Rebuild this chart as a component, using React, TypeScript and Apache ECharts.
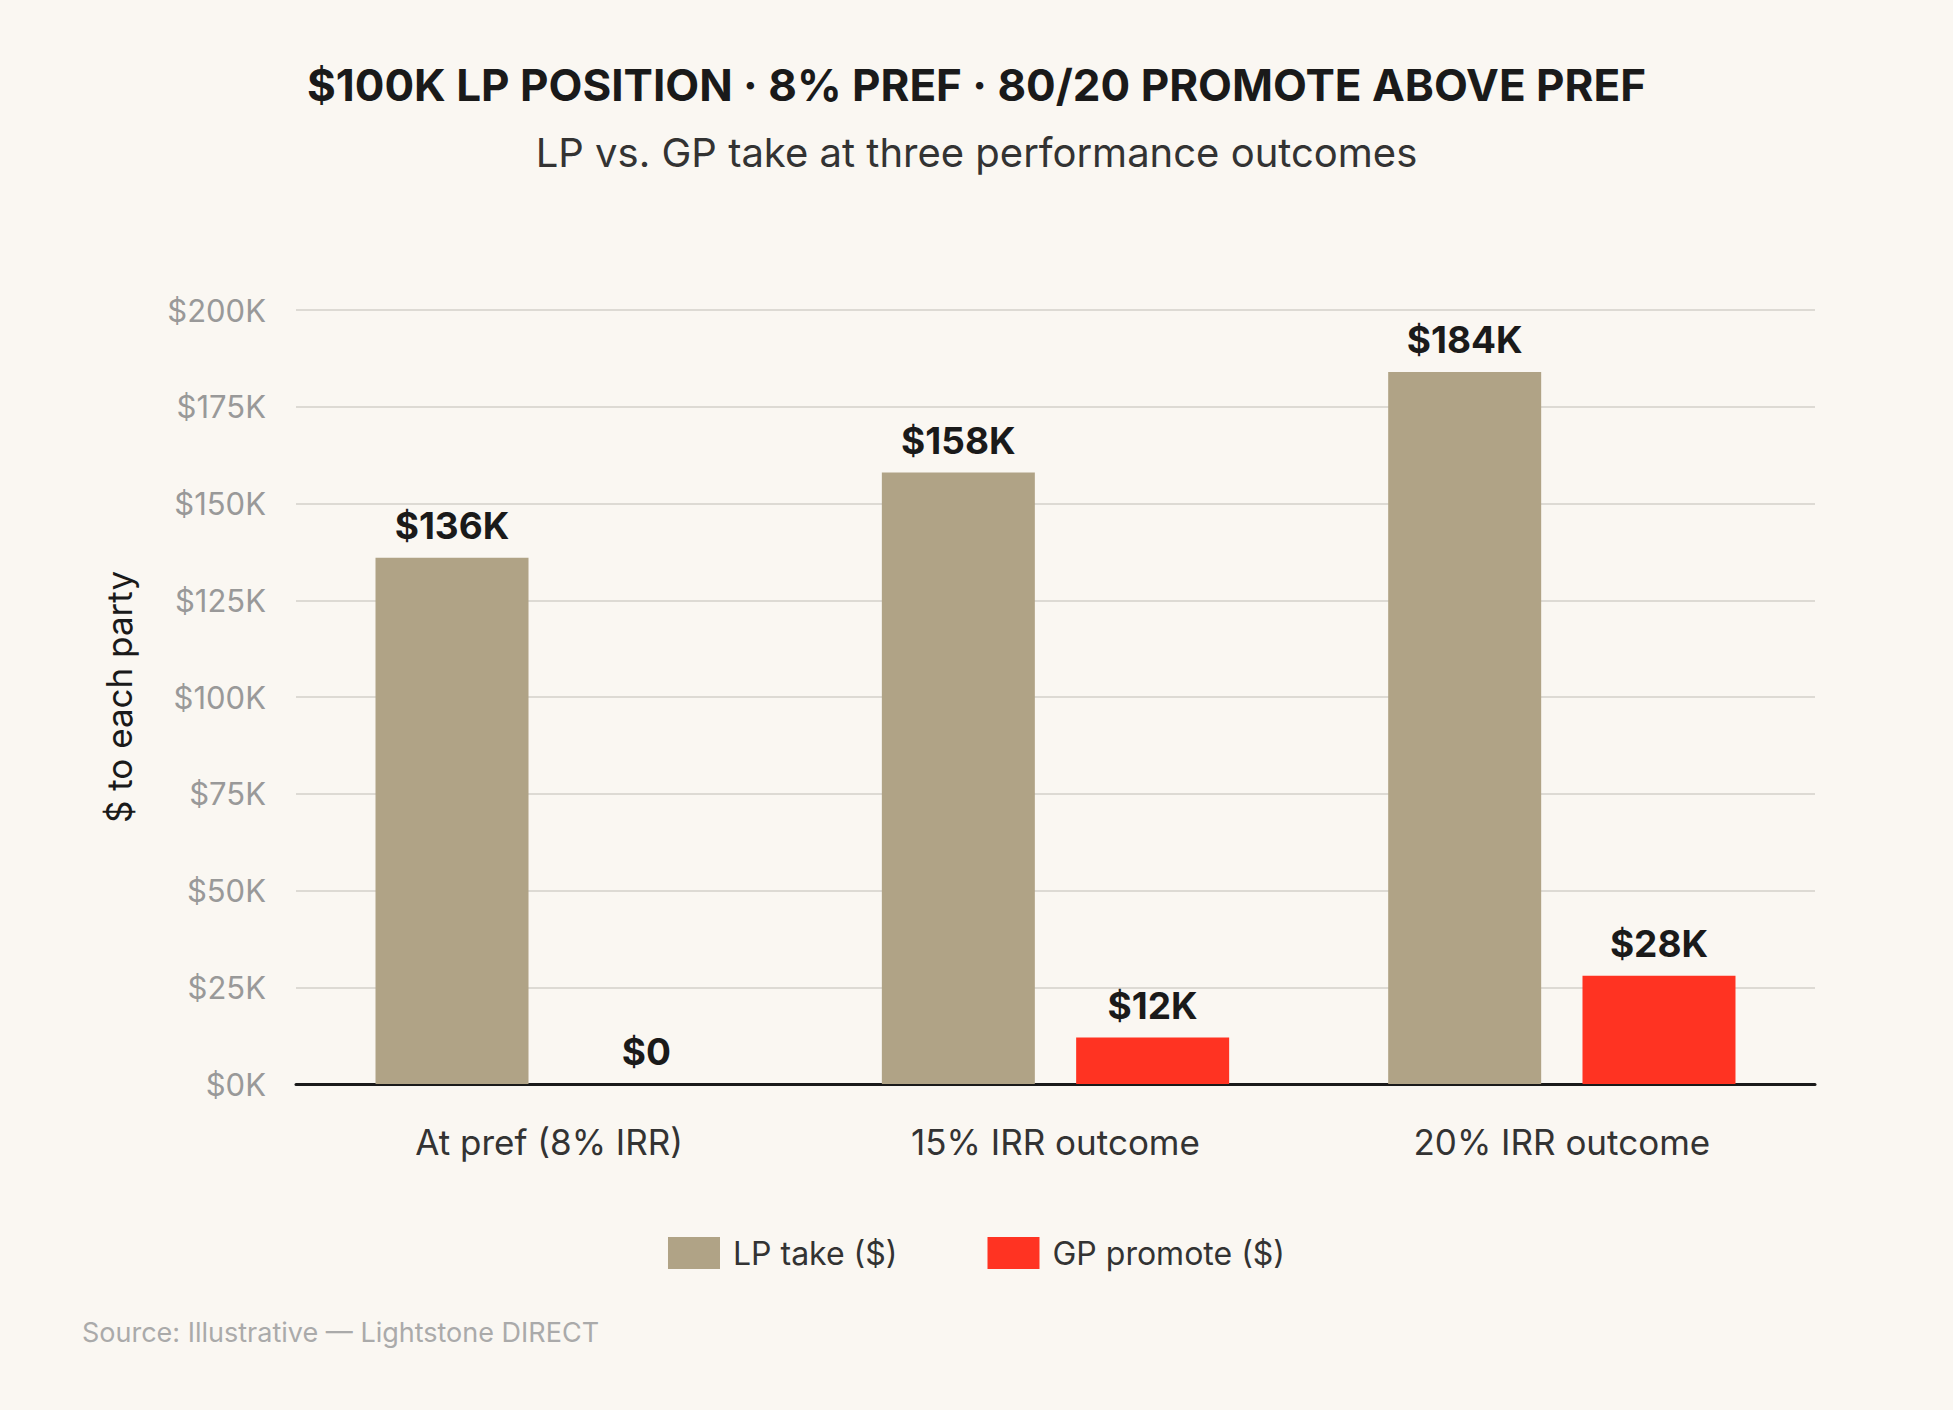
import React, { useEffect, useRef } from 'react'
import * as echarts from 'echarts'

const categories = ['At pref (8% IRR)', '15% IRR outcome', '20% IRR outcome']
const lpTake = [136, 158, 184]
const gpPromote = [0, 12, 28]
const yTicks = [0, 25, 50, 75, 100, 125, 150, 175, 200]

const FONT = 'Inter, "Noto Sans", sans-serif'

const App: React.FC = () => {
  const chartRef = useRef<HTMLDivElement>(null)

  useEffect(() => {
    if (!chartRef.current) return
    const chart = echarts.init(chartRef.current, undefined, { renderer: 'svg' })

    const label = {
      show: true,
      position: 'top',
      distance: 14,
      formatter: (p: any) => (p.value === 0 ? '$0' : `$${p.value}K`),
      color: '#1a1a1a',
      fontFamily: FONT,
      fontWeight: 'bold',
      fontSize: 37,
    }

    chart.setOption({
      animation: false,
      backgroundColor: '#faf7f2',
      textStyle: { fontFamily: FONT },
      title: [
        {
          text: '$100K LP POSITION · 8% PREF · 80/20 PROMOTE ABOVE PREF',
          left: 'center',
          top: 58,
          textStyle: { fontSize: 44, fontWeight: 'bold', color: '#1a1a1a', fontFamily: FONT },
        },
        {
          text: 'LP vs. GP take at three performance outcomes',
          left: 'center',
          top: 127,
          textStyle: { fontSize: 40, fontWeight: 'normal', color: '#333', fontFamily: FONT },
        },
        {
          text: 'Source: Illustrative — Lightstone DIRECT',
          left: 77,
          top: 1314,
          textStyle: { fontSize: 27, fontWeight: 'normal', color: '#aaaaaa', fontFamily: FONT },
        },
      ],
      legend: {
        bottom: 136,
        left: 'center',
        itemWidth: 52,
        itemHeight: 32,
        itemGap: 90,
        icon: 'rect',
        textStyle: { fontSize: 32, color: '#333', fontFamily: FONT, padding: [0, 0, 0, 8] },
        data: ['LP take ($)', 'GP promote ($)'],
      },
      grid: { left: 296, right: 138, top: 310, bottom: 326 },
      xAxis: {
        type: 'category',
        data: categories,
        axisTick: { show: false },
        axisLine: { lineStyle: { color: '#1a1a1a', width: 3 } },
        axisLabel: { fontSize: 35, color: '#333', margin: 40, fontFamily: FONT },
      },
      yAxis: {
        type: 'value',
        min: yTicks[0],
        max: yTicks[yTicks.length - 1],
        interval: 25,
        name: '$ to each party',
        nameLocation: 'middle',
        nameGap: 160,
        nameTextStyle: { fontSize: 35, color: '#1a1a1a', fontFamily: FONT },
        axisLabel: { fontSize: 31, color: '#999', margin: 30, formatter: (v: number) => `$${v}K`, fontFamily: FONT },
        splitLine: { lineStyle: { color: '#dddad4', width: 2 } },
        axisLine: { show: false },
        axisTick: { show: false },
      },
      series: [
        {
          name: 'LP take ($)',
          type: 'bar',
          data: lpTake,
          barWidth: 153,
          barGap: '27%',
          itemStyle: { color: '#b0a386' },
          label,
        },
        {
          name: 'GP promote ($)',
          type: 'bar',
          data: gpPromote,
          barWidth: 153,
          itemStyle: { color: '#ff3322' },
          label,
        },
      ],
    })

    return () => chart.dispose()
  }, [])

  return (
    <div
      ref={chartRef}
      style={{ position: 'absolute', left: 0, top: 0, width: '1953px', height: '1410px' }}
    />
  )
}

export default App
